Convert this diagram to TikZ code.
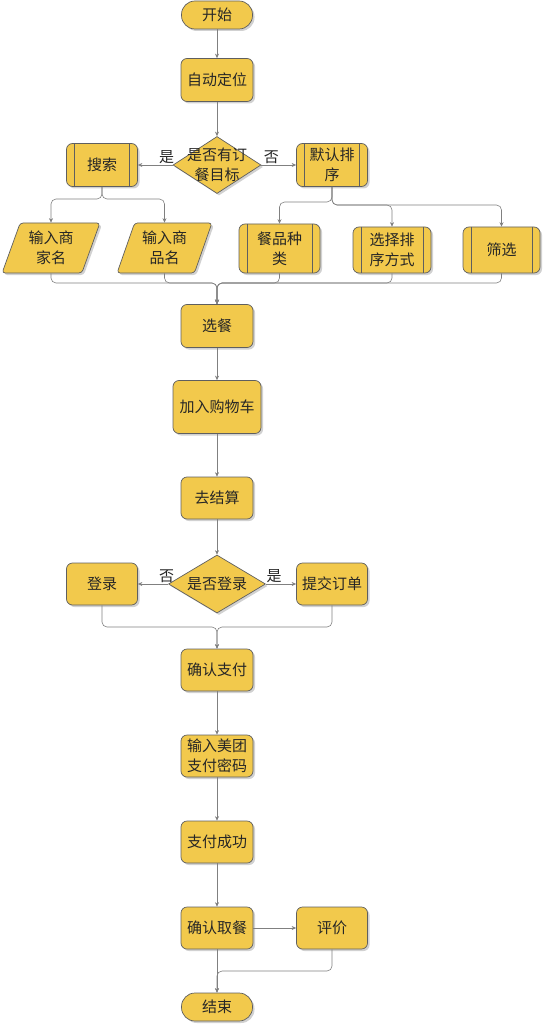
\documentclass[tikz,border=0pt]{standalone}
\usepackage{fontspec}
\setmainfont{Noto Sans CJK SC}
\usetikzlibrary{shapes.geometric,shadows,arrows.meta}

\definecolor{flowfill}{HTML}{F2C94C}
\definecolor{flowedge}{HTML}{5F5F5F}
\definecolor{flowline}{HTML}{808080}
\newcommand{\flowfont}{\fontsize{15}{20}\selectfont}

\tikzset{
  base/.style={draw=flowedge, fill=flowfill, line width=0.7pt, text=black!85,
    font=\flowfont, align=center, inner sep=1pt,
    drop shadow={shadow xshift=2pt, shadow yshift=-2pt, opacity=0.3, fill=black!60}},
  proc/.style={base, rectangle, rounded corners=6pt, minimum width=72pt, minimum height=43pt},
  term/.style={base, rectangle, rounded corners=13.5pt, minimum width=71pt, minimum height=28pt},
  decide/.style={base, diamond, inner sep=0pt},
  inbox/.style={base, trapezium, trapezium left angle=69, trapezium right angle=111,
    trapezium stretches=true, rounded corners=3pt, minimum height=50pt},
  flow/.style={draw=flowline, line width=0.6pt, rounded corners=5pt,
    -{Stealth[length=4.5pt,width=4pt]}},
  tag/.style={font=\flowfont, text=black!85, inner sep=1pt}
}

\begin{document}
\begin{tikzpicture}[x=1pt,y=-1pt]
  \useasboundingbox (0,0) rectangle (542,1024);

  % Top part
  \node[term] (start) at (217,15) {开始};
  \node[proc] (locate) at (217,80) {自动定位};
  \node[decide, minimum width=88pt, minimum height=57pt,
    label={[font=\flowfont, text=black!85, align=center]center:是否有订\\餐目标}] (q1) at (217,165) {};
  \node[proc, minimum width=71pt] (search) at (102,165) {搜索};
  \node[proc, minimum width=71pt] (default) at (332,165) {默认排\\序};

  % Second row
  \node[inbox, minimum width=98pt] (shop) at (51,248) {输入商\\家名};
  \node[inbox, minimum width=95pt] (dish) at (164.5,248) {输入商\\品名};
  \node[proc, minimum width=81pt, minimum height=49pt] (kind) at (279.5,248.5) {餐品种\\类};
  \node[proc, minimum width=78pt, minimum height=46pt] (sort) at (392,250) {选择排\\序方式};
  \node[proc, minimum width=77pt, minimum height=46pt] (filter) at (501.5,250) {筛选};

  % Inner bars of the sub-process boxes
  \foreach \n in {search,default,kind,sort,filter} {
    \draw[flowedge, line width=0.7pt] ([xshift=8.5pt]\n.north west) -- ([xshift=8.5pt]\n.south west);
    \draw[flowedge, line width=0.7pt] ([xshift=-8.5pt]\n.north east) -- ([xshift=-8.5pt]\n.south east);
  }

  % Middle part
  \node[proc] (choose) at (217,326) {选餐};
  \node[proc, minimum width=88pt, minimum height=53pt] (cart) at (217,407) {加入购物车};
  \node[proc, minimum height=42pt] (checkout) at (217,498) {去结算};
  \node[decide, minimum width=97pt, minimum height=58pt,
    label={[font=\flowfont, text=black!85]center:是否登录}] (q2) at (217,584) {};
  \node[proc, minimum width=71pt, minimum height=42pt] (login) at (102,584) {登录};
  \node[proc, minimum width=71pt, minimum height=42pt] (submit) at (332,584) {提交订单};

  % Bottom part
  \node[proc, minimum height=42pt] (confirm) at (217,670) {确认支付};
  \node[proc, minimum height=42pt] (pwd) at (217,756) {输入美团\\支付密码};
  \node[proc, minimum height=42pt] (success) at (217,842) {支付成功};
  \node[proc, minimum height=42pt] (pickup) at (217,928) {确认取餐};
  \node[proc, minimum width=71pt, minimum height=42pt] (review) at (332,928) {评价};
  \node[term] (end) at (217,1007) {结束};

  % Junction points
  \coordinate (s1) at (102,199);
  \coordinate (d1) at (332,202);
  \coordinate (d2) at (332,205);
  \coordinate (m1) at (217,283);
  \coordinate (m2) at (217,627);
  \coordinate (m3) at (217,971);

  % Connectors
  \draw[flow] (start) -- (locate);
  \draw[flow] (locate) -- (q1);
  \draw[flow] (q1.west) -- node[tag, pos=0.17, above] {是} (search.east);
  \draw[flow] (q1.east) -- node[tag, pos=0.29, above] {否} (default.west);

  \draw[flow] (search.south) -- (s1) -| (shop.north);
  \draw[flow] (search.south) -- (s1) -| (dish.north);
  \draw[flow] (default.south) -- (d1) -| (kind.north);
  \draw[flow] (default.south) -- (d2) -| (sort.north);
  \draw[flow] (default.south) -- (d2) -| (filter.north);

  \foreach \n in {shop,dish,kind,sort,filter}
    \draw[flow] (\n.south) |- (m1) -- (choose.north);

  \draw[flow] (choose) -- (cart);
  \draw[flow] (cart) -- (checkout);
  \draw[flow] (checkout) -- (q2);
  \draw[flow] (q2.west) -- node[tag, pos=0.05, above] {否} (login.east);
  \draw[flow] (q2.east) -- node[tag, pos=0.27, above] {是} (submit.west);

  \draw[flow] (login.south) |- (m2) -- (confirm.north);
  \draw[flow] (submit.south) |- (m2) -- (confirm.north);

  \draw[flow] (confirm) -- (pwd);
  \draw[flow] (pwd) -- (success);
  \draw[flow] (success) -- (pickup);
  \draw[flow] (pickup) -- (review);
  \draw[flow] (pickup) -- (end);
  \draw[flow] (review.south) |- (m3) -- (end.north);
\end{tikzpicture}
\end{document}
